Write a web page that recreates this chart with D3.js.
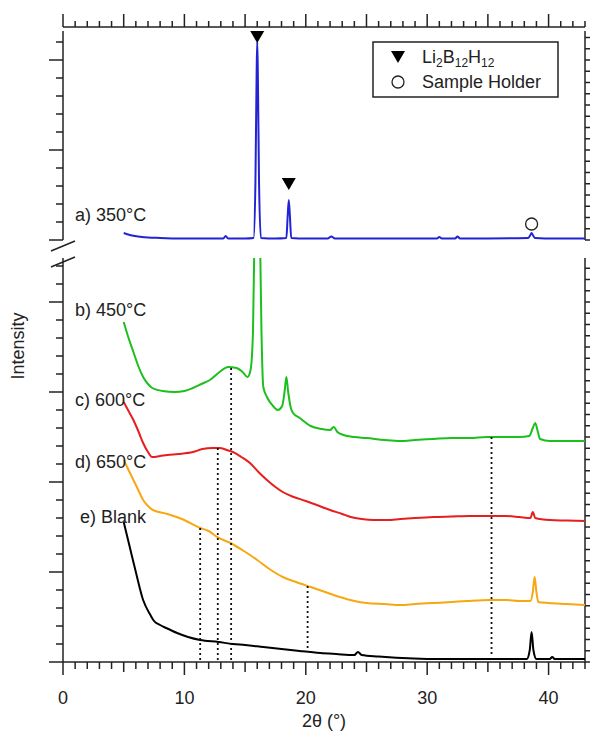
<!DOCTYPE html>
<html>
<head>
<meta charset="utf-8">
<script src="https://cdn.jsdelivr.net/npm/d3@7"></script>
<style>
  body { margin: 0; background: #fff; }
  text { font-family: "Liberation Sans", Arial, sans-serif; fill: #222; }
</style>
</head>
<body>
<svg id="chart" width="590" height="733"></svg>
<script>
// values: 2theta in degrees, intensity in arbitrary units

// a) 350°C, upper panel
const a2t = [5.0, 5.5, 6.5, 8.0, 10.0, 12.0, 13.2, 13.4, 13.6, 15.0, 15.7, 15.85, 15.95, 16.0, 16.05, 16.15, 16.3, 17.5, 18.4, 18.5, 18.6, 18.7, 18.8, 20.0, 21.8, 22.1, 22.4, 25.0, 28.0, 30.8, 31.0, 31.2, 32.3, 32.5, 32.7, 35.0, 38.3, 38.5, 38.6, 38.7, 38.9, 40.5, 43.0];
const aI = [10, 8, 6, 5, 4.5, 4.5, 4.5, 7, 4.5, 4.5, 5, 60, 170, 201, 170, 60, 5, 4.5, 5, 25, 43, 25, 5, 4.5, 4.5, 6.5, 4.5, 4.5, 4.5, 4.5, 6, 4.5, 4.5, 6.5, 4.5, 4.5, 5, 8, 10, 8, 5, 4.5, 4.5];

// b) 450°C
const b2t = [5.0, 5.4, 5.8, 6.2, 6.6, 7.0, 7.35, 8.2, 9.2, 10.0, 10.7, 11.4, 12.1, 12.9, 13.6, 14.3, 14.8, 15.2, 15.45, 15.65, 15.8, 16.0, 16.2, 16.35, 16.5, 16.8, 17.3, 17.7, 18.05, 18.25, 18.4, 18.55, 18.75, 18.95, 19.5, 20.4, 21.3, 22.0, 22.3, 22.6, 23.1, 24.0, 25.0, 26.5, 27.8, 29.0, 30.5, 32.0, 33.5, 34.9, 36.3, 37.6, 38.4, 38.7, 38.9, 39.1, 39.3, 40.1, 41.5, 43.0];
const bI = [340, 324, 310, 296, 285, 278, 274, 271, 270, 271, 274, 278, 282, 290, 295, 294, 290, 285, 292, 330, 450, 520, 450, 330, 275, 265, 256, 252, 256, 270, 285, 270, 255, 249, 244, 236, 233, 232, 235, 230, 227, 225, 224, 222, 221, 222, 223, 224, 224, 225, 225, 225, 226, 234, 239, 231, 223, 221, 221, 221];

// c) 600°C
const c2t = [5.0, 5.4, 5.8, 6.2, 6.6, 7.0, 7.35, 8.0, 8.6, 9.5, 10.7, 11.5, 12.3, 12.9, 13.5, 14.0, 14.7, 15.4, 16.1, 16.8, 17.5, 18.1, 19.0, 20.0, 20.9, 22.0, 23.0, 23.7, 24.6, 25.6, 26.7, 27.8, 29.0, 30.5, 32.0, 33.5, 35.2, 36.5, 37.6, 38.5, 38.7, 38.9, 40.1, 41.5, 43.0];
const cI = [260, 251, 242, 231, 219, 210, 205, 206, 207, 208, 210, 213, 214, 214, 212, 210, 205, 199, 190, 182, 175, 170, 165, 161, 157, 152, 148, 145, 143, 142, 142, 143, 144, 145, 145.5, 146, 146, 146, 145, 144, 150, 144, 142, 141.5, 141];

// d) 650°C
const d2t = [5.0, 5.4, 5.8, 6.2, 6.6, 7.0, 7.4, 8.6, 9.8, 11.3, 12.0, 12.7, 13.8, 14.9, 16.0, 17.0, 18.1, 19.2, 20.4, 21.6, 22.8, 24.0, 25.0, 26.5, 27.8, 29.0, 30.5, 32.0, 33.3, 35.2, 36.5, 37.6, 38.5, 38.7, 38.85, 39.0, 39.15, 40.0, 41.5, 43.0];
const dI = [202, 192, 182, 172, 162, 156, 152, 148, 143, 134, 131, 125, 119, 111, 102, 93, 85, 80, 75, 70, 65, 61, 59, 58, 57, 58, 59, 60, 61, 62, 62, 61, 61, 70, 85, 70, 60, 59, 58, 57];

// e) Blank
const e2t = [5.0, 5.5, 6.0, 6.6, 7.2, 7.5, 8.0, 8.5, 9.4, 10.3, 11.3, 12.8, 14.0, 15.0, 16.5, 18.0, 19.5, 21.2, 22.5, 24.0, 24.3, 24.6, 26.0, 28.9, 31.0, 35.1, 38.2, 38.45, 38.6, 38.75, 39.0, 40.1, 40.3, 40.5, 43.0];
const eI = [140, 115, 90, 62, 47, 41, 37, 34, 29, 25, 22, 20, 18, 17, 15, 13, 11, 9, 8, 7, 10, 7, 5.5, 3.5, 3, 3, 3, 12, 30, 12, 3, 3, 5, 3, 3];

const seriesNames = ["a) 350°C", "b) 450°C", "c) 600°C", "d) 650°C", "e) Blank"];
const seriesColors = ["#2323d6", "#1dbf1d", "#e61e1e", "#f7a712", "#000000"];

// reflection markers on trace a)
const tri2t = [16.0, 18.6];
const triI = [206, 59];
const ring2t = [38.6];
const ringI = [19];

// dotted guide lines (lower panel units)
const drop2t = [11.3, 12.75, 13.85, 20.15, 35.3];
const dropTop = [134, 214, 294, 76, 225];
const dropBottom = [0, 0, 0, 10, 6];

const xTicks = [0, 10, 20, 30, 40];

const svg = d3.select("#chart");

const x = d3.scaleLinear().domain([0, 43]).range([63, 585]);
const yLow = d3.scaleLinear().domain([0, 404]).range([662, 258]);
const yUp = d3.scaleLinear().domain([0, 212]).range([243, 31]);

const axisColor = "#222";

// clip for the lower panel (the 16° peak of b) runs off the top)
svg.append("defs").append("clipPath")
    .attr("id", "lowClip")
    .append("rect")
    .attr("x", x(0)).attr("y", yLow(404))
    .attr("width", x(43) - x(0)).attr("height", yLow(0) - yLow(404));

// ---- axes ----
const axes = svg.append("g")
    .attr("stroke", axisColor)
    .attr("stroke-width", 1.5)
    .attr("fill", "none");

// bottom axis
axes.append("line")
    .attr("x1", x(0)).attr("x2", x(43))
    .attr("y1", yLow(0)).attr("y2", yLow(0));
axes.selectAll(".btick")
    .data(d3.range(0, 44))
    .enter().append("line")
    .attr("x1", d => x(d)).attr("x2", d => x(d))
    .attr("y1", yLow(0))
    .attr("y2", d => yLow(0) + (d % 10 === 0 ? 13 : d % 5 === 0 ? 10 : 7));

svg.append("g")
    .selectAll("text")
    .data(xTicks)
    .enter().append("text")
    .attr("x", d => x(d))
    .attr("y", 704)
    .attr("text-anchor", "middle")
    .attr("font-size", 18)
    .text(d => d);

// top axis (ticks point up)
const topY = 27;
axes.append("line")
    .attr("x1", x(0)).attr("x2", x(43))
    .attr("y1", topY).attr("y2", topY);
axes.selectAll(".ttick")
    .data(d3.range(0, 44))
    .enter().append("line")
    .attr("x1", d => x(d)).attr("x2", d => x(d))
    .attr("y1", topY)
    .attr("y2", d => topY - (d % 5 === 0 ? 13 : 6));

// left / right axes, broken between panels
function sideAxis(scale, lo, hi) {
    const y0 = scale(lo), y1 = scale(hi);
    axes.append("line").attr("x1", x(0)).attr("x2", x(0)).attr("y1", y0).attr("y2", y1);
    axes.append("line").attr("x1", x(43)).attr("x2", x(43)).attr("y1", y0).attr("y2", y1);
    // left: one tick every 18 units, long one every 90
    const leftTicks = d3.range(lo, hi + 0.1, 18);
    axes.selectAll(null)
        .data(leftTicks)
        .enter().append("line")
        .attr("x1", x(0))
        .attr("x2", (d, i) => x(0) - (i % 5 === 0 ? 14 : 7))
        .attr("y1", d => scale(d)).attr("y2", d => scale(d));
    // right: denser short ticks
    const rightTicks = d3.range(lo, hi + 0.1, 11.25);
    axes.selectAll(null)
        .data(rightTicks)
        .enter().append("line")
        .attr("x1", x(43)).attr("x2", x(43) + 7)
        .attr("y1", d => scale(d)).attr("y2", d => scale(d));
}
sideAxis(yLow, 0, 404);
sideAxis(yUp, 3, 212);

// break marks on the left axis
const brk = svg.append("g").attr("stroke", axisColor).attr("stroke-width", 1.5);
[yUp(0) + 3, yLow(404) + 4].forEach(yy => {
    brk.append("line")
        .attr("x1", x(0) - 12).attr("y1", yy + 5)
        .attr("x2", x(0) + 12).attr("y2", yy - 5);
});

// ---- traces ----
const lineLow = d3.line()
    .x(d => x(d[0]))
    .y(d => yLow(d[1]))
    .curve(d3.curveMonotoneX);
const lineUp = d3.line()
    .x(d => x(d[0]))
    .y(d => yUp(d[1]))
    .curve(d3.curveMonotoneX);

svg.append("path")
    .datum(d3.zip(a2t, aI))
    .attr("fill", "none")
    .attr("stroke", seriesColors[0])
    .attr("stroke-width", 2)
    .attr("d", lineUp);

const lowSeries = [[b2t, bI], [c2t, cI], [d2t, dI], [e2t, eI]];
svg.append("g")
    .attr("clip-path", "url(#lowClip)")
    .selectAll("path")
    .data(lowSeries)
    .enter().append("path")
    .attr("fill", "none")
    .attr("stroke", (d, i) => seriesColors[i + 1])
    .attr("stroke-width", 2)
    .attr("stroke-linejoin", "round")
    .attr("d", d => lineLow(d3.zip(d[0], d[1])));

// dotted guides
svg.append("g")
    .selectAll("line")
    .data(drop2t)
    .enter().append("line")
    .attr("x1", d => x(d)).attr("x2", d => x(d))
    .attr("y1", (d, i) => yLow(dropTop[i]))
    .attr("y2", (d, i) => yLow(dropBottom[i]))
    .attr("stroke", "#111")
    .attr("stroke-width", 1.8)
    .attr("stroke-dasharray", "2,3");

// markers on trace a)
const triPath = "M-7,-6L7,-6L0,6Z";
svg.append("g")
    .selectAll("path")
    .data(tri2t)
    .enter().append("path")
    .attr("d", triPath)
    .attr("transform", (d, i) => `translate(${x(d)},${yUp(triI[i])})`)
    .attr("fill", "#000");
svg.append("g")
    .selectAll("circle")
    .data(ring2t)
    .enter().append("circle")
    .attr("cx", d => x(d))
    .attr("cy", (d, i) => yUp(ringI[i]))
    .attr("r", 6)
    .attr("fill", "none")
    .attr("stroke", "#222")
    .attr("stroke-width", 1.3);

// trace labels
const labelPos = [[75, 221], [75, 316], [75, 406], [75, 468], [80, 523]];
svg.append("g")
    .selectAll("text")
    .data(seriesNames)
    .enter().append("text")
    .attr("x", (d, i) => labelPos[i][0])
    .attr("y", (d, i) => labelPos[i][1])
    .attr("font-size", 18)
    .text(d => d);

// legend
const legend = svg.append("g");
legend.append("rect")
    .attr("x", 373).attr("y", 42)
    .attr("width", 185).attr("height", 55)
    .attr("fill", "#fff")
    .attr("stroke", "#222")
    .attr("stroke-width", 1.5);
legend.append("path")
    .attr("d", triPath)
    .attr("transform", "translate(398,57)")
    .attr("fill", "#000");
legend.append("circle")
    .attr("cx", 398).attr("cy", 82).attr("r", 6)
    .attr("fill", "none").attr("stroke", "#222").attr("stroke-width", 1.3);
const liText = legend.append("text")
    .attr("x", 422).attr("y", 63)
    .attr("font-size", 18);
liText.append("tspan").text("Li");
liText.append("tspan").attr("font-size", 12).attr("dy", 4).text("2");
liText.append("tspan").attr("dy", -4).text("B");
liText.append("tspan").attr("font-size", 12).attr("dy", 4).text("12");
liText.append("tspan").attr("dy", -4).text("H");
liText.append("tspan").attr("font-size", 12).attr("dy", 4).text("12");
legend.append("text")
    .attr("x", 422).attr("y", 88)
    .attr("font-size", 18)
    .text("Sample Holder");

// axis titles
svg.append("text")
    .attr("x", x(21.5)).attr("y", 727)
    .attr("text-anchor", "middle")
    .attr("font-size", 18)
    .text("2θ (°)");
svg.append("text")
    .attr("transform", "translate(24,346) rotate(-90)")
    .attr("text-anchor", "middle")
    .attr("font-size", 18)
    .text("Intensity");
</script>
</body>
</html>
